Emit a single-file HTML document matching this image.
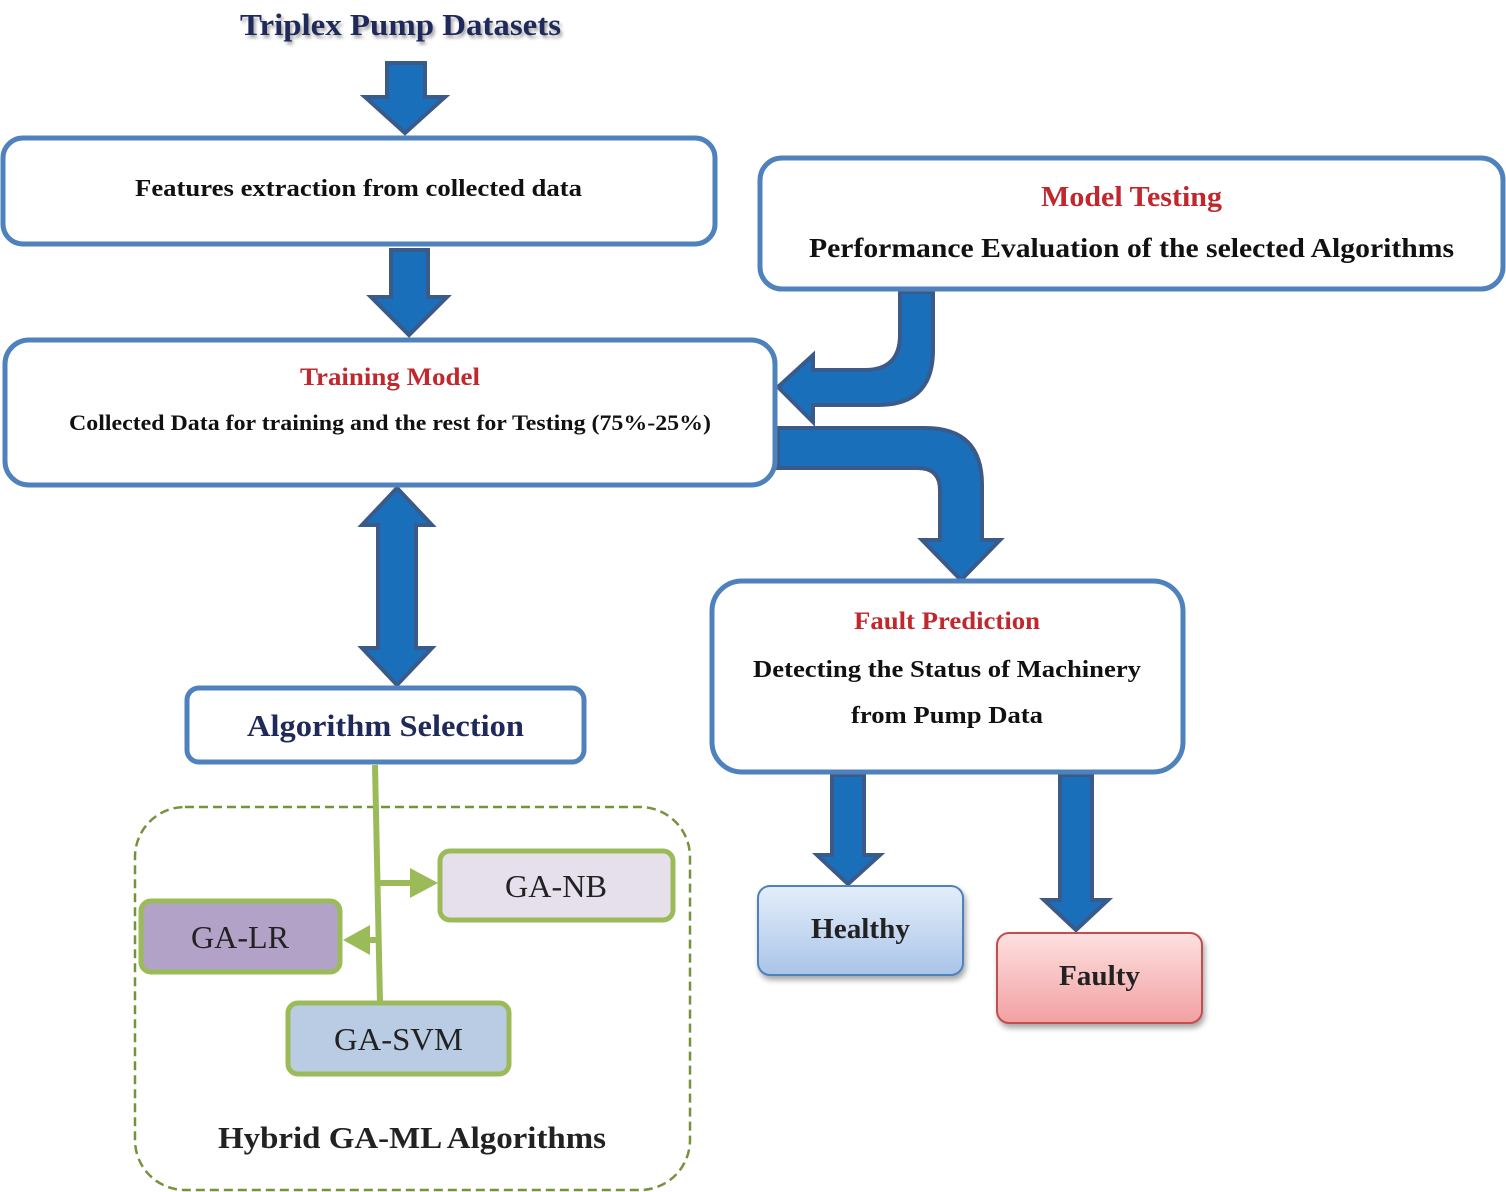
<!DOCTYPE html>
<html><head><meta charset="utf-8"><style>body{margin:0;background:#fff}svg{display:block}text{font-family:"Liberation Serif",serif}</style></head><body>
<svg width="1506" height="1192" viewBox="0 0 1506 1192" xmlns="http://www.w3.org/2000/svg">
<defs>
<linearGradient id="gh" x1="0" y1="0" x2="0" y2="1"><stop offset="0" stop-color="#e4eefa"/><stop offset="1" stop-color="#a9c4e8"/></linearGradient>
<linearGradient id="gf" x1="0" y1="0" x2="0" y2="1"><stop offset="0" stop-color="#fde0e0"/><stop offset="1" stop-color="#f2a0a2"/></linearGradient>
<filter id="sh" x="-10%" y="-10%" width="130%" height="140%"><feDropShadow dx="2" dy="4" stdDeviation="3" flood-color="#000" flood-opacity="0.35"/></filter>
</defs>
<g fill="#1a6fba" stroke="#3a5a8a" stroke-width="4" stroke-linejoin="miter">
<path d="M387,63 L425,63 L425,97 L445,97 L405,133 L365,97 L387,97 Z"/>
<path d="M391,250 L428,250 L428,297 L447,297 L409,335 L371,297 L391,297 Z"/>
<path d="M397,488 L432,525 L416,525 L416,648 L432,648 L397,685 L362,648 L378,648 L378,525 L362,525 Z"/>
<path d="M900,292 L933,292 L933,350 Q933,405 878,405 L813,405 L813,422 L778,387 L813,355 L813,370 L865,370 Q900,370 900,335 Z"/>
<path d="M778,428 L925,428 Q982,428 982,485 L982,540 L1000,540 L961,580 L922,540 L940,540 L940,490 Q940,468 918,468 L778,468 Z"/>
<path d="M832,775 L864,775 L864,855 L880,855 L848,884 L817,855 L832,855 Z"/>
<path d="M1060,775 L1092,775 L1092,900 L1108,900 L1076,930 L1044,900 L1060,900 Z"/>
</g>
<g fill="#fff" stroke="#4f81bd" stroke-width="5">
<rect x="3" y="138" width="712" height="106" rx="20"/>
<rect x="760" y="158" width="743" height="131" rx="22"/>
<rect x="5" y="340" width="770" height="145" rx="24"/>
<rect x="187" y="688" width="397" height="74" rx="12"/>
<rect x="712" y="581" width="471" height="191" rx="30"/>
</g>
<rect x="758" y="886" width="205" height="89" rx="12" fill="url(#gh)" stroke="#4f81bd" stroke-width="2" filter="url(#sh)"/>
<rect x="997" y="933" width="205" height="90" rx="12" fill="url(#gf)" stroke="#c0504d" stroke-width="2" filter="url(#sh)"/>
<rect x="135" y="807" width="555" height="383" rx="50" fill="none" stroke="#76923c" stroke-width="2.5" stroke-dasharray="9,5"/>
<g stroke="#9bbb59" stroke-width="6" fill="none"><path d="M375,765 L380,1003"/><path d="M378,883 L415,883"/><path d="M376,940 L365,940"/></g>
<g fill="#9bbb59"><path d="M410,868 L438,883 L410,898 Z"/><path d="M370,925 L343,940 L370,955 Z"/></g>
<g stroke="#9bbb59" stroke-width="5">
<rect x="440" y="851" width="233" height="69" rx="10" fill="#e6e0ec"/>
<rect x="141" y="901" width="199" height="71" rx="10" fill="#b2a2c7"/>
<rect x="288" y="1003" width="221" height="71" rx="10" fill="#b9cce4"/>
</g>
<g font-weight="bold" lengthAdjust="spacingAndGlyphs">
<text x="240" y="35" textLength="321" lengthAdjust="spacingAndGlyphs" font-size="31" fill="#1f2a5a" style="text-shadow:2px 3px 3px rgba(0,0,0,.35)">Triplex Pump Datasets</text>
<text x="135" y="196" textLength="447" lengthAdjust="spacingAndGlyphs" font-size="24" fill="#111">Features extraction from collected data</text>
<text x="1041" y="206" textLength="181" lengthAdjust="spacingAndGlyphs" font-size="28" fill="#c0282d">Model Testing</text>
<text x="809" y="257" textLength="645" lengthAdjust="spacingAndGlyphs" font-size="27" fill="#111">Performance Evaluation of the selected Algorithms</text>
<text x="300" y="385" textLength="180" lengthAdjust="spacingAndGlyphs" font-size="25" fill="#c0282d">Training Model</text>
<text x="69" y="430" textLength="642" lengthAdjust="spacingAndGlyphs" font-size="22" fill="#111">Collected Data for training and the rest for Testing (75%-25%)</text>
<text x="247" y="736" textLength="277" lengthAdjust="spacingAndGlyphs" font-size="31" fill="#1f2a5a">Algorithm Selection</text>
<text x="854" y="629" textLength="186" lengthAdjust="spacingAndGlyphs" font-size="25" fill="#c0282d">Fault Prediction</text>
<text x="753" y="677" textLength="388" lengthAdjust="spacingAndGlyphs" font-size="24" fill="#111">Detecting the Status of Machinery</text>
<text x="851" y="723" textLength="192" lengthAdjust="spacingAndGlyphs" font-size="24" fill="#111">from Pump Data</text>
<text x="811" y="938" textLength="99" lengthAdjust="spacingAndGlyphs" font-size="28" fill="#222">Healthy</text>
<text x="1059" y="985" textLength="81" lengthAdjust="spacingAndGlyphs" font-size="28" fill="#222">Faulty</text>
<text x="218" y="1148" textLength="388" lengthAdjust="spacingAndGlyphs" font-size="31" fill="#222">Hybrid GA-ML Algorithms</text>
</g>
<g font-size="32" fill="#222">
<text x="505" y="897" textLength="102" lengthAdjust="spacingAndGlyphs">GA-NB</text>
<text x="191" y="948" textLength="98" lengthAdjust="spacingAndGlyphs">GA-LR</text>
<text x="334" y="1050" textLength="129" lengthAdjust="spacingAndGlyphs">GA-SVM</text>
</g>
</svg>
</body></html>
